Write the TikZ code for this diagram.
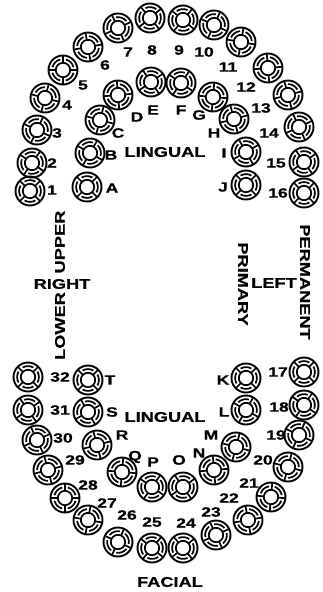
\documentclass[tikz,border=0pt]{standalone}
\usepackage{fontspec}
\newfontfamily\dfont[FakeStretch=1.3,FakeBold=0.6]{Liberation Sans}
\begin{document}
\begin{tikzpicture}[x=1pt,y=-1pt,
  tooth/.style={circle, draw, line width=1.9pt, minimum size=29pt, inner sep=0pt},
  toothline/.style={line width=1.7pt},
  lbl/.style={inner sep=0pt, font=\dfont\bfseries\fontsize{13.5}{13.5}\selectfont},
  word/.style={inner sep=0pt, font=\dfont\bfseries\fontsize{14}{14}\selectfont}]
\useasboundingbox (0,0) rectangle (322,592);
% one tooth: outer rim, pulp circle, broken middle ring and four spokes
\newcommand\tooth[4]{%
  \node[tooth] (#1) at (#2,#3) {};
  \begin{scope}[shift={(#1.center)}, rotate=#4]
    \draw[toothline] (0,0) circle[radius=7.2];
    \foreach \a in {0,90,180,270} {
      \draw[toothline] (\a-30:10.9) arc[start angle=\a-30, end angle=\a+30, radius=10.9];
      \draw[toothline] (\a+45:7.2) -- (\a+45:14.5);
    }
  \end{scope}}
% upper permanent teeth
\tooth{t1}{30}{191}{0}
\tooth{t2}{32}{163}{10}
\tooth{t3}{37}{130}{20}
\tooth{t4}{45}{98}{30}
\tooth{t5}{63}{70}{45}
\tooth{t6}{88}{47}{55}
\tooth{t7}{118}{28}{70}
\tooth{t8}{150}{18}{85}
\tooth{t9}{183}{20}{95}
\tooth{t10}{214}{25}{110}
\tooth{t11}{241}{42}{125}
\tooth{t12}{268}{68}{140}
\tooth{t13}{288}{95}{150}
\tooth{t14}{299}{127}{160}
\tooth{t15}{304}{162}{170}
\tooth{t16}{304}{193}{180}
% upper primary teeth
\tooth{tA}{87}{187}{0}
\tooth{tB}{90}{153}{15}
\tooth{tC}{100}{120}{30}
\tooth{tD}{118}{95}{50}
\tooth{tE}{151}{82}{80}
\tooth{tF}{181}{83}{100}
\tooth{tG}{213}{97}{130}
\tooth{tH}{234}{119}{150}
\tooth{tI}{246}{152}{165}
\tooth{tJ}{246}{185}{180}
% lower permanent teeth
\tooth{t32}{28}{377}{0}
\tooth{t31}{28}{410}{-10}
\tooth{t30}{37}{440}{-20}
\tooth{t29}{48}{470}{-30}
\tooth{t28}{65}{498}{-45}
\tooth{t27}{88}{520}{-55}
\tooth{t26}{118}{542}{-70}
\tooth{t25}{152}{548}{-85}
\tooth{t24}{183}{548}{-95}
\tooth{t23}{216}{535}{-110}
\tooth{t22}{248}{520}{-125}
\tooth{t21}{271}{497}{-140}
\tooth{t20}{288}{467}{-150}
\tooth{t19}{299}{435}{-160}
\tooth{t18}{304}{405}{-170}
\tooth{t17}{304}{372}{-180}
% lower primary teeth
\tooth{tT}{88}{380}{0}
\tooth{tS}{88}{412}{-15}
\tooth{tR}{97}{445}{-30}
\tooth{tQ}{122}{472}{-50}
\tooth{tP}{152}{487}{-80}
\tooth{tO}{183}{487}{-100}
\tooth{tN}{214}{470}{-130}
\tooth{tM}{236}{447}{-150}
\tooth{tL}{246}{410}{-165}
\tooth{tK}{246}{378}{-180}
% tooth numbers
\foreach \n/\x/\y in {1/52/190, 2/52/163, 3/57/133, 4/67/105, 5/83/85, 6/105/65,
  7/128/52, 8/152/50, 9/179/50, 10/204/52, 11/228/67, 12/246/87, 13/261/108,
  14/269/133, 15/276/163, 16/278/193,
  32/60/377, 31/60/410, 30/63/438, 29/75/460, 28/88/485, 27/107/503,
  26/127/515, 25/152/522, 24/186/523, 23/211/512, 22/229/498, 21/249/483,
  20/263/460, 19/276/435, 18/279/407, 17/278/372}
  \node[lbl] (n\n) at (\x,\y) {\n};
% primary tooth letters
\foreach \n/\x/\y in {A/112/188, B/111/155, C/118/133, D/137/117, E/153/110,
  F/181/110, G/199/115, H/214/133, I/224/153, J/223/187,
  T/110/380, S/112/412, R/122/435, Q/135/457, P/153/462, O/179/460,
  N/199/453, M/211/435, L/224/412, K/223/380}
  \node[lbl] (n\n) at (\x,\y) {\n};
% surface and side words
\node[word] (lingU) at (165,152) {LINGUAL};
\node[word] (lingL) at (165,417) {LINGUAL};
\node[word, rotate=90] (upper) at (60,242) {UPPER};
\node[word, rotate=90] (lower) at (60,326) {LOWER};
\node[word] (right) at (62,284) {RIGHT};
\node[word, rotate=-90] (primary) at (243,284) {PRIMARY};
\node[word] (left) at (274,283) {LEFT};
\node[word, rotate=-90] (permanent) at (305,282) {PERMANENT};
\node[word] (facial) at (170,582) {FACIAL};
\end{tikzpicture}
\end{document}
